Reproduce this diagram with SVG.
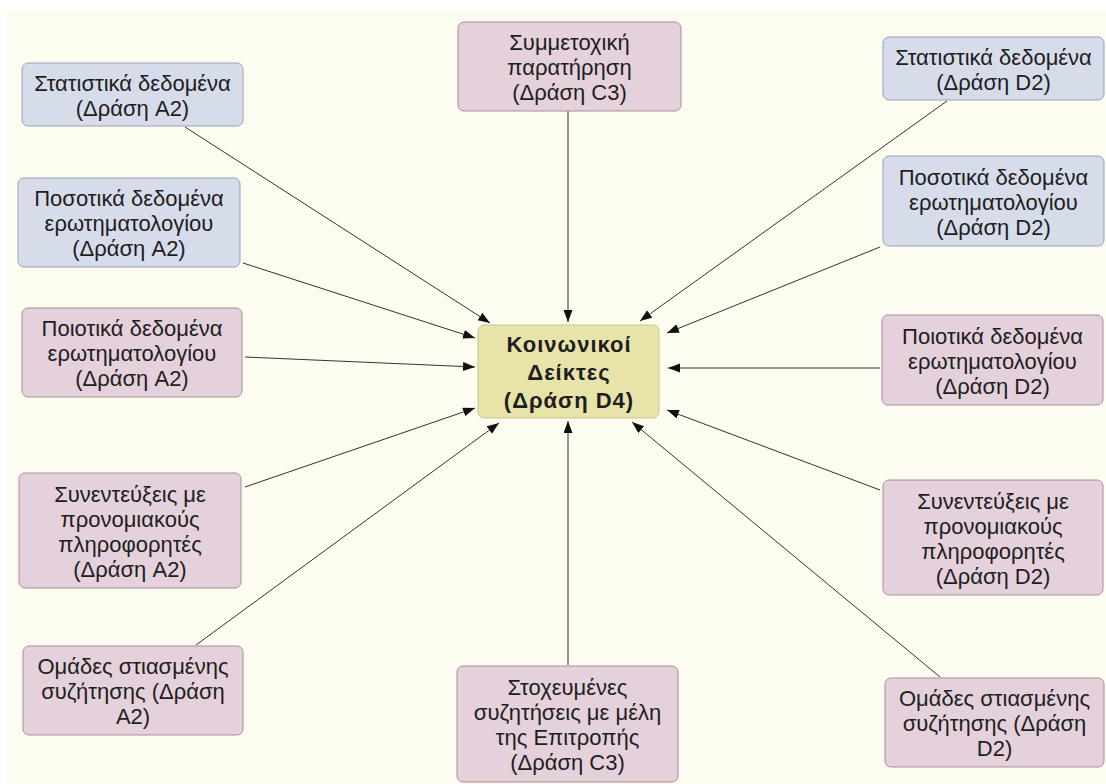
<svg xmlns="http://www.w3.org/2000/svg" width="1106" height="784" viewBox="0 0 1106 784">
<style>
.bg{fill:#fdfcf1}
.blue{fill:#d7dcea;stroke:#9ba2b9;stroke-width:1}
.pink{fill:#e4d1db;stroke:#a88d9b;stroke-width:1}
.main{fill:#e8e3a8;stroke:#cbc690;stroke-width:1}
.t{font-family:"Liberation Sans",Arial,sans-serif;font-size:22px;fill:#1e1e1e;text-anchor:middle}
.tb{font-family:"Liberation Sans",Arial,sans-serif;font-size:22px;font-weight:bold;letter-spacing:1px;fill:#1e1e1e;text-anchor:middle}
.c line{stroke:#333;stroke-width:1;marker-end:url(#ah)}
</style>
<defs>
<marker id="ah" markerUnits="userSpaceOnUse" markerWidth="13" markerHeight="10" refX="12" refY="4.5" orient="auto">
<path d="M0,0 L12,4.5 L0,9 z" fill="#111"/>
</marker>
</defs>
<rect x="0" y="0" width="1106" height="784" fill="#ffffff"/>
<rect class="bg" x="7" y="10" width="1099" height="774"/>
<g class="c" id="connectors">
<line x1="185" y1="127" x2="490" y2="323"/>
<line x1="243" y1="263" x2="475" y2="338"/>
<line x1="245" y1="357" x2="475" y2="367"/>
<line x1="245" y1="487" x2="475" y2="408"/>
<line x1="196" y1="645" x2="499" y2="423"/>
<line x1="568" y1="111" x2="568" y2="322"/>
<line x1="568" y1="665" x2="568" y2="421"/>
<line x1="947" y1="101" x2="640" y2="321"/>
<line x1="880" y1="247" x2="667" y2="333"/>
<line x1="880" y1="368" x2="668" y2="368"/>
<line x1="880" y1="490" x2="667" y2="410"/>
<line x1="940" y1="677" x2="632" y2="422"/>
</g>
<g id="center">
<rect class="main" x="478" y="325" width="181" height="93" rx="6"/>
<text class="tb" x="569" y="352">Κοινωνικοί</text>
<text class="tb" x="569" y="380">Δείκτες</text>
<text class="tb" x="569" y="408">(Δράση D4)</text>
</g>
<g id="statA2">
<rect class="blue" x="22" y="63" width="221" height="63" rx="6"/>
<text class="t" x="132.5" y="91">Στατιστικά δεδομένα</text>
<text class="t" x="132.5" y="116">(Δράση A2)</text>
</g>
<g id="posA2">
<rect class="blue" x="18" y="178" width="222" height="89" rx="6"/>
<text class="t" x="129" y="206">Ποσοτικά δεδομένα</text>
<text class="t" x="129" y="231">ερωτηματολογίου</text>
<text class="t" x="129" y="256">(Δράση A2)</text>
</g>
<g id="poiA2">
<rect class="pink" x="22" y="308" width="220" height="89" rx="6"/>
<text class="t" x="132" y="336">Ποιοτικά δεδομένα</text>
<text class="t" x="132" y="361">ερωτηματολογίου</text>
<text class="t" x="132" y="386">(Δράση A2)</text>
</g>
<g id="synA2">
<rect class="pink" x="19" y="473" width="222" height="115" rx="6"/>
<text class="t" x="130" y="501.5">Συνεντεύξεις με</text>
<text class="t" x="130" y="526.5">προνομιακούς</text>
<text class="t" x="130" y="551.5">πληροφορητές</text>
<text class="t" x="130" y="576.5">(Δράση A2)</text>
</g>
<g id="omA2">
<rect class="pink" x="23" y="646" width="220" height="89" rx="6"/>
<text class="t" x="133" y="674">Ομάδες στιασμένης</text>
<text class="t" x="133" y="699">συζήτησης (Δράση</text>
<text class="t" x="133" y="724">A2)</text>
</g>
<g id="topC3">
<rect class="pink" x="458" y="22" width="223" height="89" rx="6"/>
<text class="t" x="569.5" y="50">Συμμετοχική</text>
<text class="t" x="569.5" y="75">παρατήρηση</text>
<text class="t" x="569.5" y="100">(Δράση C3)</text>
</g>
<g id="botC3">
<rect class="pink" x="457" y="666" width="221" height="116" rx="6"/>
<text class="t" x="567.5" y="695">Στοχευμένες</text>
<text class="t" x="567.5" y="720">συζητήσεις με μέλη</text>
<text class="t" x="567.5" y="745">της Επιτροπής</text>
<text class="t" x="567.5" y="770">(Δράση C3)</text>
</g>
<g id="statD2">
<rect class="blue" x="883" y="37" width="221" height="63" rx="6"/>
<text class="t" x="993.5" y="64.5">Στατιστικά δεδομένα</text>
<text class="t" x="993.5" y="89.5">(Δράση D2)</text>
</g>
<g id="posD2">
<rect class="blue" x="883" y="156" width="221" height="90" rx="6"/>
<text class="t" x="993.5" y="184.5">Ποσοτικά δεδομένα</text>
<text class="t" x="993.5" y="209.5">ερωτηματολογίου</text>
<text class="t" x="993.5" y="234.5">(Δράση D2)</text>
</g>
<g id="poiD2">
<rect class="pink" x="882" y="315" width="221" height="90" rx="6"/>
<text class="t" x="992.5" y="343.5">Ποιοτικά δεδομένα</text>
<text class="t" x="992.5" y="368.5">ερωτηματολογίου</text>
<text class="t" x="992.5" y="393.5">(Δράση D2)</text>
</g>
<g id="synD2">
<rect class="pink" x="883" y="480" width="220" height="115" rx="6"/>
<text class="t" x="993" y="508.5">Συνεντεύξεις με</text>
<text class="t" x="993" y="533.5">προνομιακούς</text>
<text class="t" x="993" y="558.5">πληροφορητές</text>
<text class="t" x="993" y="583.5">(Δράση D2)</text>
</g>
<g id="omD2">
<rect class="pink" x="885" y="678" width="219" height="89" rx="6"/>
<text class="t" x="994.5" y="706">Ομάδες στιασμένης</text>
<text class="t" x="994.5" y="731">συζήτησης (Δράση</text>
<text class="t" x="994.5" y="756">D2)</text>
</g>
</svg>
